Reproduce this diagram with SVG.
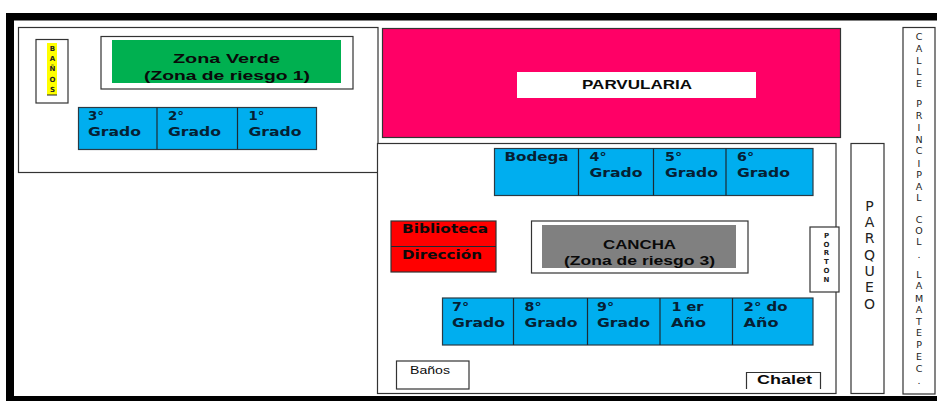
<svg xmlns="http://www.w3.org/2000/svg" width="937" height="401" viewBox="0 0 937 401">
<style>
.b{fill:#fff;stroke:#333;stroke-width:1.2}
.k{fill:#00aeef;stroke:#2a3a44;stroke-width:1.2}
.d{stroke:#1c2a33;stroke-width:1.2;fill:none}
text{font-family:"Liberation Sans",Arial,sans-serif;fill:#0a0a0a}
.t{font-size:12.500px;font-weight:bold;fill:#062033;font-family:"DejaVu Sans",sans-serif}
.v{text-anchor:middle;font-size:9.500px;fill:#222;font-family:"DejaVu Sans",sans-serif}
</style>
<rect width="937" height="401" fill="#fff"/>
<g id="frame"><rect x="6" y="13" width="931" height="7.500" fill="#000"/><rect x="6" y="13" width="8" height="388" fill="#000"/><rect x="6" y="396" width="931" height="5" fill="#000"/></g>
<g id="zona-superior"><rect class="b" x="18.500" y="27.500" width="359.500" height="145"/></g>
<g id="banos-1"><rect class="b" x="36" y="39.500" width="32" height="63.500"/><rect x="47" y="43" width="10" height="52" fill="#ff0"/><path d="M47 95H57" stroke="#222"/>
<text class="v" style="font-size:7px;font-weight:bold"><tspan x="52.500" y="50.500">B</tspan><tspan x="52.500" y="60.500">A</tspan><tspan x="52.500" y="70.500">Ñ</tspan><tspan x="52.500" y="81.500">O</tspan><tspan x="52.500" y="91.500">S</tspan></text></g>
<g id="zona-verde"><rect class="b" x="101" y="36.500" width="252" height="52.500"/><rect x="112" y="40" width="229" height="43" fill="#00b050"/>
<text x="173" y="63" font-size="13.500" font-weight="bold" textLength="107" lengthAdjust="spacingAndGlyphs">Zona Verde</text><text x="144" y="80" font-size="13.500" font-weight="bold" textLength="166" lengthAdjust="spacingAndGlyphs">(Zona de riesgo 1)</text></g>
<g id="grados-1-3"><rect class="k" x="78.500" y="107.500" width="238" height="42"/><path class="d" d="M157 107.500V149.500M237.500 107.500V149.500"/>
<text class="t" x="88" y="120" textLength="16" lengthAdjust="spacingAndGlyphs">3°</text><text class="t" x="88" y="136" textLength="53" lengthAdjust="spacingAndGlyphs">Grado</text>
<text class="t" x="168" y="120" textLength="16" lengthAdjust="spacingAndGlyphs">2°</text><text class="t" x="168" y="136" textLength="53" lengthAdjust="spacingAndGlyphs">Grado</text>
<text class="t" x="248.500" y="120" textLength="16" lengthAdjust="spacingAndGlyphs">1°</text><text class="t" x="248.500" y="136" textLength="53" lengthAdjust="spacingAndGlyphs">Grado</text></g>
<g id="parvularia"><rect x="382.500" y="28.500" width="458" height="109" fill="#ff0066" stroke="#333" stroke-width="1.200"/><rect x="517" y="72" width="239" height="26" fill="#fff"/>
<text x="582" y="89" font-size="12.500" font-weight="bold" textLength="110" lengthAdjust="spacingAndGlyphs">PARVULARIA</text></g>
<g id="zona-inferior"><rect class="b" x="377.500" y="143.500" width="458.500" height="250"/></g>
<g id="grados-4-6"><rect class="k" x="494.500" y="148.500" width="318.500" height="47"/><path class="d" d="M578.500 148.500V195.500M653.500 148.500V195.500M726 148.500V195.500"/>
<text class="t" x="504.500" y="161" textLength="64" lengthAdjust="spacingAndGlyphs">Bodega</text>
<text class="t" x="589.500" y="161" textLength="17" lengthAdjust="spacingAndGlyphs">4°</text><text class="t" x="589.500" y="177" textLength="53" lengthAdjust="spacingAndGlyphs">Grado</text>
<text class="t" x="665" y="161" textLength="17" lengthAdjust="spacingAndGlyphs">5°</text><text class="t" x="665" y="177" textLength="53" lengthAdjust="spacingAndGlyphs">Grado</text>
<text class="t" x="737" y="161" textLength="17" lengthAdjust="spacingAndGlyphs">6°</text><text class="t" x="737" y="177" textLength="53" lengthAdjust="spacingAndGlyphs">Grado</text></g>
<g id="biblioteca-direccion"><rect x="391" y="221" width="105" height="51" fill="#f00" stroke="#333" stroke-width="1.200"/><path class="d" d="M391 246.500H496"/>
<text x="402" y="233" font-size="12.500" font-weight="bold" font-family="DejaVu Sans" textLength="86" lengthAdjust="spacingAndGlyphs" style="font-family:'DejaVu Sans',sans-serif">Biblioteca</text><text x="402" y="259" font-size="12.500" font-weight="bold" textLength="80" lengthAdjust="spacingAndGlyphs" style="font-family:'DejaVu Sans',sans-serif">Dirección</text></g>
<g id="cancha"><rect class="b" x="531.500" y="221" width="216.500" height="52"/><rect x="542" y="225" width="194" height="43" fill="#808080"/>
<text x="603" y="249" font-size="13" font-weight="bold" textLength="73" lengthAdjust="spacingAndGlyphs">CANCHA</text><text x="564" y="265" font-size="13" font-weight="bold" textLength="151" lengthAdjust="spacingAndGlyphs">(Zona de riesgo 3)</text></g>
<g id="porton"><rect class="b" x="810" y="227" width="29" height="65"/>
<text class="v" style="font-size:7px;font-weight:bold"><tspan x="826.500" y="237.500">P</tspan><tspan x="826.500" y="246.500">O</tspan><tspan x="826.500" y="254.500">R</tspan><tspan x="826.500" y="263.500">T</tspan><tspan x="826.500" y="272.500">O</tspan><tspan x="826.500" y="281.500">N</tspan></text></g>
<g id="grados-7-ano"><rect class="k" x="442.500" y="298" width="370.500" height="47"/><path class="d" d="M513.500 298V345M587.500 298V345M660 298V345M732.500 298V345"/>
<text class="t" x="452" y="310.500" textLength="17" lengthAdjust="spacingAndGlyphs">7°</text><text class="t" x="452" y="327" textLength="53" lengthAdjust="spacingAndGlyphs">Grado</text>
<text class="t" x="524.500" y="310.500" textLength="17" lengthAdjust="spacingAndGlyphs">8°</text><text class="t" x="524.500" y="327" textLength="53" lengthAdjust="spacingAndGlyphs">Grado</text>
<text class="t" x="597" y="310.500" textLength="17" lengthAdjust="spacingAndGlyphs">9°</text><text class="t" x="597" y="327" textLength="53" lengthAdjust="spacingAndGlyphs">Grado</text>
<text class="t" x="671.500" y="310.500" textLength="32" lengthAdjust="spacingAndGlyphs">1 er</text><text class="t" x="671" y="327" textLength="35" lengthAdjust="spacingAndGlyphs">Año</text>
<text class="t" x="743.500" y="310.500" textLength="44" lengthAdjust="spacingAndGlyphs">2° do</text><text class="t" x="743.500" y="327" textLength="35" lengthAdjust="spacingAndGlyphs">Año</text></g>
<g id="banos-2"><rect class="b" x="396.500" y="361" width="72.500" height="28"/><text x="410" y="374" font-size="11" fill="#222" textLength="40" lengthAdjust="spacingAndGlyphs">Baños</text></g>
<g id="chalet"><path d="M746.500 389V372.500H820.500V389" fill="#fff" stroke="#333" stroke-width="1.200"/><text x="757" y="384" font-size="12" font-weight="bold" fill="#222" textLength="55" lengthAdjust="spacingAndGlyphs">Chalet</text></g>
<g id="parqueo"><rect class="b" x="851" y="143.500" width="33" height="250"/>
<text class="v" style="font-size:14px"><tspan x="869.500" y="210.500">P</tspan><tspan x="869.500" y="227">A</tspan><tspan x="869.500" y="243">R</tspan><tspan x="869.500" y="259.500">Q</tspan><tspan x="869.500" y="276">U</tspan><tspan x="869.500" y="292">E</tspan><tspan x="869.500" y="308.500">O</tspan></text></g>
<g id="calle"><rect class="b" x="903" y="27.500" width="32" height="366.500"/>
<text class="v"><tspan x="919" y="39.500">C</tspan><tspan x="919" y="51.500">A</tspan><tspan x="919" y="63.500">L</tspan><tspan x="919" y="75">L</tspan><tspan x="919" y="86.500">E</tspan><tspan x="919" y="106.500">P</tspan><tspan x="919" y="118.500">R</tspan><tspan x="919" y="130.500">I</tspan><tspan x="919" y="142.500">N</tspan><tspan x="919" y="153.500">C</tspan><tspan x="919" y="166.500">I</tspan><tspan x="919" y="177.500">P</tspan><tspan x="919" y="189.500">A</tspan><tspan x="919" y="200.500">L</tspan><tspan x="919" y="222.500">C</tspan><tspan x="919" y="233.500">O</tspan><tspan x="919" y="244.500">L</tspan><tspan x="919" y="258">.</tspan><tspan x="919" y="277.500">L</tspan><tspan x="919" y="288.500">A</tspan><tspan x="919" y="301.500">M</tspan><tspan x="919" y="312.500">A</tspan><tspan x="919" y="324.500">T</tspan><tspan x="919" y="335.500">E</tspan><tspan x="919" y="347.500">P</tspan><tspan x="919" y="359.500">E</tspan><tspan x="919" y="371.500">C</tspan><tspan x="919" y="384">.</tspan></text></g>
</svg>
